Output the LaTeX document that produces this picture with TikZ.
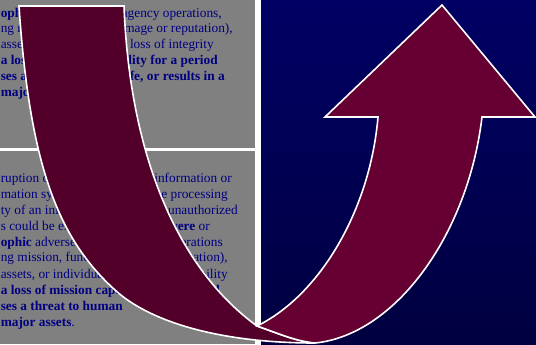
\documentclass[tikz,border=0pt]{standalone}
\usepackage{fontspec}
\setmainfont{Liberation Serif}
\definecolor{panelgray}{RGB}{128,128,128}
\definecolor{textnavy}{RGB}{0,0,128}
\definecolor{navytop}{RGB}{0,0,100}
\definecolor{navybot}{RGB}{0,0,64}
\definecolor{backred}{RGB}{82,0,42}
\definecolor{frontred}{RGB}{102,0,51}
\tikzset{
  txt/.style={inner sep=0pt, text=textnavy, font=\fontsize{10}{12}\selectfont},
  ribbon/.style={draw=white, line width=1.2pt, line join=miter},
}
\begin{document}
\begin{tikzpicture}[x=0.75pt,y=-0.75pt]
\useasboundingbox (0,0) rectangle (536,344);
\fill[panelgray] (0,0) rectangle (255,344);
\fill[white] (255,0) rectangle (261,344);
\shade[top color=navytop, bottom color=navybot] (261,0) rectangle (536,344);
\fill[white] (0,148) rectangle (255,151);

\foreach \y/\txt in {17/{\textbf{ophic}}, 32/{ng mission,}, 48/{assets,},
    64/{\textbf{a loss}}, 80/{\textbf{ses a}}, 96/{\textbf{major}},
    182/{ruption of}, 198/{mation system}, 214/{ty of an information},
    230/{s could be expected}, 246/{\textbf{ophic} adverse effect},
    261/{ng mission, functions,}, 278/{assets, or individuals},
    294/{\textbf{a loss of mission capability}},
    310/{\textbf{ses a threat to human}}, 326/{\textbf{major assets}.}}{
  \node[txt, anchor=base west] (left\y) at (0.5,\y) {\txt};
}
\foreach \y/\txt/\x in {17/{on agency operations,}/222,
    32/{functions, image or reputation),}/233, 48/{loss of integrity}/214,
    64/{\textbf{capability for a period}}/218,
    80/{\textbf{life, or results in a}}/225,
    182/{of information or}/232, 198/{the processing}/228,
    214/{or unauthorized}/238, 230/{\textbf{severe} or}/210,
    246/{operations}/223, 261/{reputation),}/228,
    278/{availability}/228, 294/{\textbf{and}}/220}{
  \node[txt, anchor=base east] (right\y) at (\x,\y) {\txt};
}

\draw[ribbon, fill=backred] (19,6) .. controls (30,170) and (60,240) .. (115,290)
  .. controls (150,322) and (220,343) .. (315,343)
  .. controls (295,341) and (280,334) .. (257,326)
  .. controls (180,270) and (130,160) .. (124,6) -- cycle;

\draw[ribbon, fill=frontred] (257,326) .. controls (280,334) and (295,341) .. (315,343)
  .. controls (395,335) and (468,235) .. (482,117)
  -- (535,117) -- (442,5) -- (325,117) -- (378,117)
  .. controls (370,210) and (320,295) .. (257,326) -- cycle;
\end{tikzpicture}
\end{document}
